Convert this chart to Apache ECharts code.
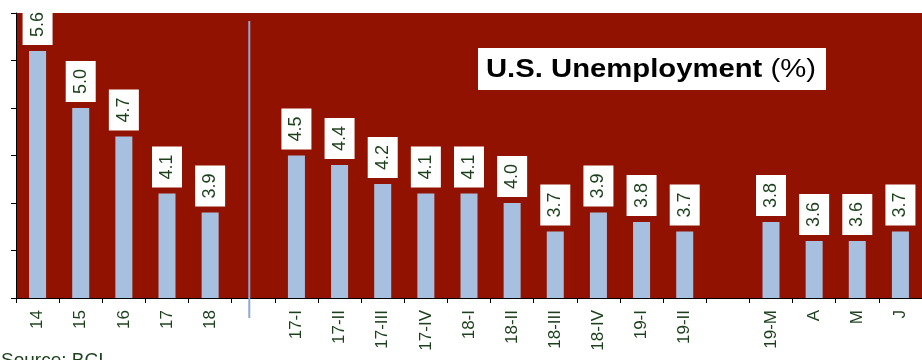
<!DOCTYPE html>
<html>
<head>
<meta charset="utf-8">
<style>
  html, body { margin: 0; padding: 0; background: #ffffff; }
  #chart { width: 922px; height: 360px; }
</style>
<script src="https://cdn.jsdelivr.net/npm/echarts@6/dist/echarts.min.js"></script>
</head>
<body>
<div id="chart"></div>
<script>
// Annual averages, then quarterly, then monthly readings; '' entries are spacer slots.
const categories = ['14', '15', '16', '17', '18', '',
  '17-I', '17-II', '17-III', '17-IV', '18-I', '18-II', '18-III', '18-IV', '19-I', '19-II', '',
  '19-M', 'A', 'M', 'J'];
const unemployment = [5.6, 5.0, 4.7, 4.1, 3.9, null,
  4.5, 4.4, 4.2, 4.1, 4.1, 4.0, 3.7, 3.9, 3.8, 3.7, null,
  3.8, 3.6, 3.6, 3.7];
const yMin = 3, yMax = 6, yStep = 0.5;
const titleText = '{b|U.S. Unemployment }{n|(%)}';
const sourceText = 'Source: BCI';

const FONT = '"Liberation Sans", Arial, Helvetica, sans-serif';
const TEXT_GREEN = '#1c3f1c';

const chart = echarts.init(document.getElementById('chart'), null, { renderer: 'canvas' });

const option = {
  animation: false,
  backgroundColor: '#ffffff',
  grid: {
    left: 16, top: 13, width: 909, height: 285,
    show: true, backgroundColor: '#911200', borderWidth: 0,
    containLabel: false
  },
  xAxis: {
    type: 'category',
    data: categories,
    boundaryGap: true,
    axisLine: { show: true, onZero: false, lineStyle: { color: '#000000', width: 1 } },
    axisTick: { show: true, length: 5, interval: 0, lineStyle: { color: '#000000' } },
    axisLabel: {
      interval: 0, rotate: 90, margin: 12,
      fontSize: 17, fontFamily: FONT, color: TEXT_GREEN
    },
    splitLine: { show: false }
  },
  yAxis: {
    type: 'value',
    min: yMin, max: yMax, interval: yStep,
    axisLine: { show: true, lineStyle: { color: '#000000', width: 1 } },
    axisTick: { show: true, length: 5, lineStyle: { color: '#000000' } },
    axisLabel: { show: false },
    splitLine: { show: false }
  },
  series: [{
    type: 'bar',
    data: unemployment,
    barWidth: 17,
    itemStyle: { color: '#a8c0e0' },
    label: {
      show: true,
      position: 'top',
      distance: 6,
      rotate: 90,
      align: 'left',
      verticalAlign: 'middle',
      fontSize: 18,
      fontFamily: FONT,
      color: TEXT_GREEN,
      backgroundColor: '#ffffff',
      padding: [6, 8],
      formatter: p => p.value.toFixed(1)
    }
  }]
};

chart.setOption(option);

// Divider between the annual and quarterly groups, next to the first spacer slot.
const sepX = chart.convertToPixel({ xAxisIndex: 0 }, 5) - 4;

chart.setOption({
  graphic: [
    {
      type: 'line',
      shape: { x1: sepX, y1: 21, x2: sepX, y2: 318 },
      style: { stroke: '#8ea9d6', lineWidth: 2 },
      z: 10
    },
    {
      type: 'rect',
      shape: { x: 478, y: 48, width: 348, height: 42 },
      style: { fill: '#ffffff' },
      z: 10
    },
    {
      type: 'text',
      x: 486, y: 70,
      scaleX: 1.17,
      style: {
        text: titleText,
        verticalAlign: 'middle',
        align: 'left',
        fill: '#000000',
        rich: {
          b: { fontSize: 25, fontWeight: 'bold', fontFamily: FONT, fill: '#000000' },
          n: { fontSize: 25, fontWeight: 'normal', fontFamily: FONT, fill: '#000000' }
        }
      },
      z: 11
    },
    {
      type: 'text',
      x: 1, y: 351,
      style: {
        text: sourceText,
        fontSize: 19,
        fontFamily: FONT,
        fill: TEXT_GREEN,
        verticalAlign: 'top'
      },
      z: 11
    }
  ]
});
</script>
</body>
</html>
